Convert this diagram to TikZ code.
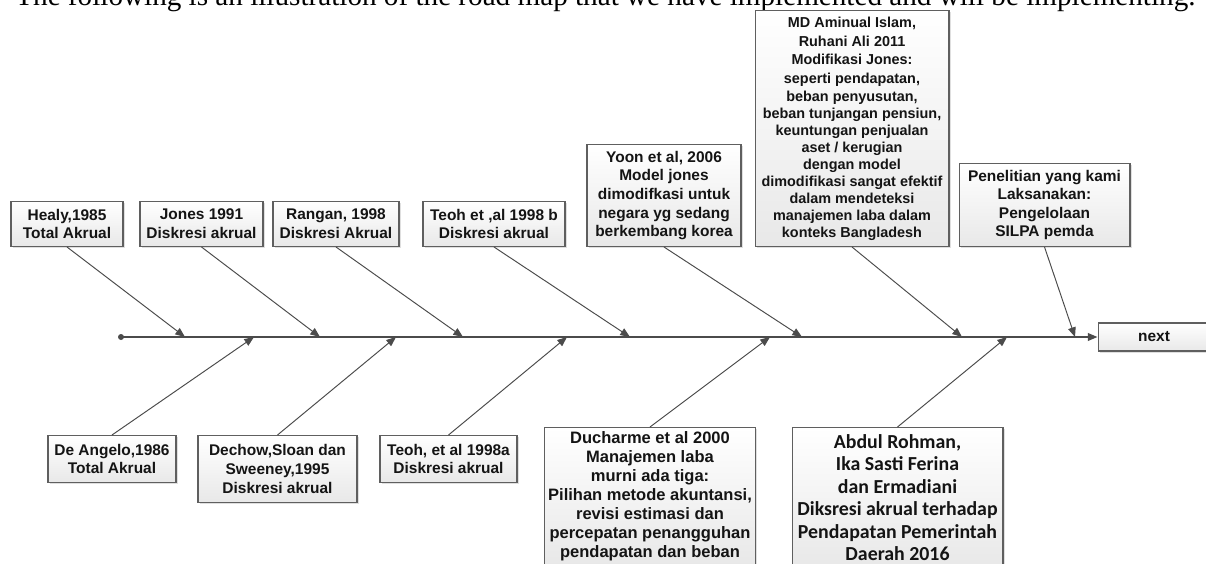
\documentclass[tikz,border=0pt]{standalone}
\usepackage{fontspec}
\setmainfont{Liberation Serif}
\setsansfont{Liberation Sans}
\newfontfamily\calibri{Carlito}
\usetikzlibrary{arrows.meta, shadows}
\definecolor{bonegray}{RGB}{75, 75, 75}
\definecolor{edgegray}{RGB}{95, 95, 95}
\definecolor{ink}{RGB}{20, 20, 20}

\begin{document}
\begin{tikzpicture}[x=0.02cm, y=-0.02cm,
    box/.style={rectangle, draw=edgegray, line width=0.6pt, top color=white,
                bottom color=black!9, align=center, text=ink, inner sep=2pt,
                drop shadow={shadow xshift=0.9pt, shadow yshift=-0.9pt, opacity=0.25},
                font=\sffamily\bfseries\fontsize{8.8}{10.6}\selectfont},
    bone/.style={draw=bonegray, line width=0.55pt, -{Triangle[length=5.5pt, width=4.4pt]}},
    spine/.style={draw=bonegray, line width=0.85pt, -{Triangle[length=5.5pt, width=4.4pt]}},
    dot/.style={circle, fill=bonegray, inner sep=0pt, minimum size=0.12cm}]

    \useasboundingbox (0,0) rectangle (1206,564);

    % Heading line
    \node[anchor=base west, inner sep=0pt, font=\fontsize{16.6}{20}\selectfont] (title) at (15,6)
        {The following is an illustration of the road map that we have implemented and will be implementing.};

    % Upper studies
    \node[box, anchor=south, minimum width=2.24cm, minimum height=0.9cm] (healy) at (67,247) {Healy,1985\\Total Akrual};
    \node[box, anchor=south, minimum width=2.46cm, minimum height=0.9cm] (jones) at (201.5,247) {Jones 1991\\Diskresi akrual};
    \node[box, anchor=south, minimum width=2.52cm, minimum height=0.9cm] (rangan) at (336,247) {Rangan, 1998\\Diskresi Akrual};
    \node[box, anchor=south, minimum width=2.84cm, minimum height=0.9cm] (teohb) at (494,247) {Teoh et ,al 1998 b\\Diskresi akrual};
    \node[box, anchor=south, minimum width=3.08cm, minimum height=2.04cm] (yoon) at (664,247)
        {Yoon et al, 2006\\Model jones\\dimodifkasi untuk\\negara yg sedang\\berkembang korea};
    \node[box, anchor=south, minimum width=3.88cm, minimum height=4.72cm,
          font=\sffamily\bfseries\fontsize{8.2}{9.7}\selectfont] (islam) at (852,247)
        {MD Aminual Islam,\\[1.1pt] Ruhani Ali 2011\\[1.1pt] Modifikasi Jones:\\[1.1pt] seperti pendapatan,\\beban penyusutan,\\
         beban tunjangan pensiun,\\keuntungan penjualan\\aset / kerugian\\dengan model\\
         dimodifikasi sangat efektif\\dalam mendeteksi\\manajemen laba dalam\\konteks Bangladesh};
    \node[box, anchor=south, minimum width=3.42cm, minimum height=1.66cm] (ours) at (1044.5,247)
        {Penelitian yang kami\\Laksanakan:\\Pengelolaan\\SILPA pemda};

    % Lower studies
    \node[box, anchor=north, minimum width=2.56cm, minimum height=0.94cm] (deangelo) at (112,435) {De Angelo,1986\\Total Akrual};
    \node[box, anchor=north, minimum width=3.18cm, minimum height=1.34cm] (dechow) at (277.5,435) {Dechow,Sloan dan\\Sweeney,1995\\Diskresi akrual};
    \node[box, anchor=north, minimum width=2.74cm, minimum height=0.94cm] (teoha) at (448.5,435) {Teoh, et al 1998a\\Diskresi akrual};
    \node[box, anchor=north, minimum width=4.16cm, inner ysep=2.5pt,
          font=\sffamily\bfseries\fontsize{9.4}{10.8}\selectfont] (ducharme) at (650,427)
        {Ducharme et al 2000\\Manajemen laba\\murni ada tiga:\\Pilihan metode akuntansi,\\revisi estimasi dan\\
         percepatan penangguhan\\pendapatan dan beban};
    \node[box, anchor=north, minimum width=4.22cm, inner ysep=4pt,
          font=\calibri\bfseries\fontsize{11.3}{12.8}\selectfont] (rohman) at (897.5,427)
        {Abdul Rohman,\\Ika Sasti Ferina\\dan Ermadiani\\Diksresi akrual terhadap\\Pendapatan Pemerintah\\Daerah 2016};

    % Spine
    \node[dot] (tail) at (121,337) {};
    \node[box, minimum width=2.24cm, minimum height=0.56cm] (next) at (1154,337) {next};
    \draw[spine] (tail.center) -- (next.west);

    % Points on the spine
    \coordinate (u1) at (185,337);
    \coordinate (u2) at (320,337);
    \coordinate (u3) at (463,337);
    \coordinate (u4) at (630,337);
    \coordinate (u5) at (802,337);
    \coordinate (u6) at (962,337);
    \coordinate (u7) at (1075,337);
    \coordinate (l1) at (254,337);
    \coordinate (l2) at (396,337);
    \coordinate (l3) at (567,337);
    \coordinate (l4) at (770,337);
    \coordinate (l5) at (1007,337);

    % Arrows
    \draw[bone] (healy.south) -- (u1);
    \draw[bone] (jones.south) -- (u2);
    \draw[bone] (rangan.south) -- (u3);
    \draw[bone] (teohb.south) -- (u4);
    \draw[bone] (yoon.south) -- (u5);
    \draw[bone] (islam.south) -- (u6);
    \draw[bone] (ours.south) -- (u7);
    \draw[bone] (deangelo.north) -- (l1);
    \draw[bone] (dechow.north) -- (l2);
    \draw[bone] (teoha.north) -- (l3);
    \draw[bone] (ducharme.north) -- (l4);
    \draw[bone] (rohman.north) -- (l5);
\end{tikzpicture}
\end{document}
